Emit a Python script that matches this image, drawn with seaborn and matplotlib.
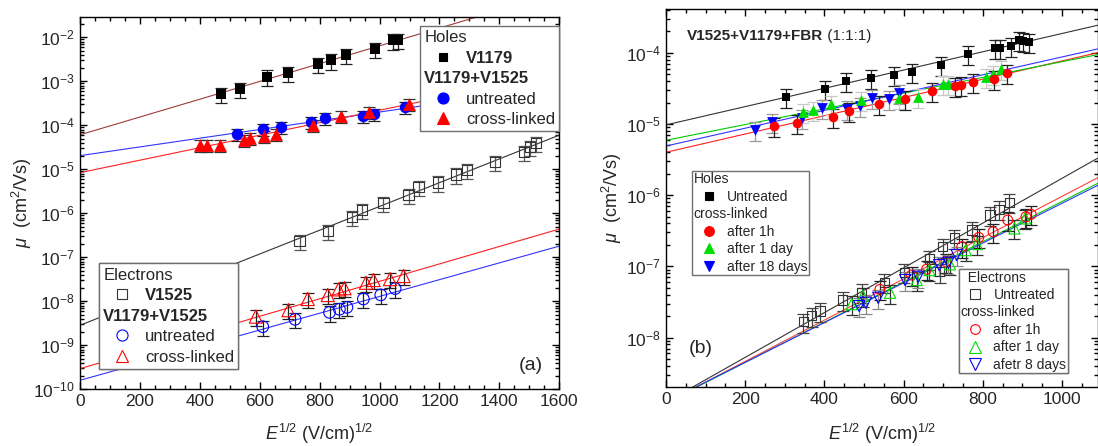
import numpy as np
import pandas as pd
import seaborn as sns
import matplotlib.pyplot as plt
from matplotlib.lines import Line2D

# ---- panel (a): holes ----
a_h_v1179_x = [471, 534, 623, 695, 796, 837, 888, 984, 1046, 1060]
a_h_v1179_mu = [5.15e-4, 6.7e-4, 1.28e-3, 1.55e-3, 2.48e-3, 3.0e-3, 3.9e-3, 5.4e-3, 8.5e-3, 8.85e-3]
a_h_untr_x = [524, 611, 670, 770, 818, 944, 982, 1085]
a_h_untr_mu = [6.45e-5, 8.24e-5, 9.14e-5, 1.21e-4, 1.45e-4, 1.6e-4, 1.84e-4, 2.58e-4]
a_h_xl_x = [402, 423, 467, 546, 566, 614, 655, 779, 872, 964, 1097]
a_h_xl_mu = [3.63e-5, 3.63e-5, 3.5e-5, 4.6e-5, 5.1e-5, 5.7e-5, 6.2e-5, 1.0e-4, 1.63e-4, 2.04e-4, 3.05e-4]
# ---- panel (a): electrons ----
a_e_v1525_x = [733, 827, 909, 941, 1013, 1097, 1130, 1194, 1256, 1291, 1386, 1481, 1503, 1523]
a_e_v1525_mu = [2.34e-7, 4.0e-7, 8.4e-7, 1.19e-6, 1.74e-6, 2.6e-6, 4.0e-6, 5.0e-6, 7.6e-6, 9.6e-6,
                1.47e-5, 2.5e-5, 3.27e-5, 4.0e-5]
a_e_untr_x = [610, 718, 833, 866, 891, 946, 1004, 1052]
a_e_untr_mu = [2.65e-9, 3.9e-9, 5.6e-9, 6.6e-9, 7.3e-9, 1.13e-8, 1.4e-8, 1.95e-8]
a_e_xl_x = [587, 696, 760, 827, 863, 883, 955, 980, 1035, 1080]
a_e_xl_mu = [4.5e-9, 6.3e-9, 1.13e-8, 1.39e-8, 1.87e-8, 1.99e-8, 2.65e-8, 3.05e-8, 3.2e-8, 3.76e-8]
# fit lines (value at x = 0 and x = 1600)
a_fit_x = [0, 1600]
a_fit_h_v1179 = [6.1e-5, 1.05e-1]
a_fit_h_untr = [2.05e-5, 7.9e-4]
a_fit_h_xl = [8.4e-6, 1.57e-3]
a_fit_e_v1525 = [2.85e-9, 6.0e-5]
a_fit_e_untr = [1.6e-10, 1.8e-7]
a_fit_e_xl = [2.95e-10, 4.4e-7]

# ---- panel (b): holes ----
b_h_untr_x = [304, 402, 455, 517, 576, 622, 694, 763, 832, 843, 872, 891, 902, 917]
b_h_untr_mu = [2.39e-5, 3.09e-5, 4.05e-5, 4.41e-5, 4.91e-5, 5.36e-5, 6.65e-5, 9.6e-5, 1.15e-4,
               1.15e-4, 1.24e-4, 1.49e-4, 1.44e-4, 1.43e-4]
b_h_1h_x = [272, 330, 421, 461, 538, 604, 672, 730, 745, 776, 829, 860]
b_h_1h_mu = [9.3e-6, 1.02e-5, 1.25e-5, 1.52e-5, 1.92e-5, 2.21e-5, 2.9e-5, 3.4e-5, 3.56e-5,
             3.84e-5, 4.32e-5, 5.14e-5]
b_h_1d_x = [345, 372, 416, 492, 589, 637, 699, 711, 808, 827, 845]
b_h_1d_mu = [1.48e-5, 1.57e-5, 1.9e-5, 2.17e-5, 2.29e-5, 2.41e-5, 3.6e-5, 3.6e-5, 4.6e-5, 5.0e-5, 5.85e-5]
b_h_18d_x = [224, 268, 343, 395, 456, 490, 521, 564, 589]
b_h_18d_mu = [8.2e-6, 1.07e-5, 1.2e-5, 1.66e-5, 1.6e-5, 1.78e-5, 2.33e-5, 2.22e-5, 2.69e-5]
# ---- panel (b): electrons ----
b_e_untr_x = [347, 368, 389, 446, 494, 551, 602, 665, 691, 699, 728, 773, 818, 841, 867]
b_e_untr_mu = [1.67e-8, 2.02e-8, 2.35e-8, 3.36e-8, 4.31e-8, 5.96e-8, 8.24e-8, 1.27e-7, 8.4e-8,
               1.88e-7, 2.5e-7, 3.24e-7, 5.26e-7, 6.3e-7, 7.9e-7]
b_e_1h_x = [540, 620, 658, 707, 747, 790, 826, 863, 909, 922]
b_e_1h_mu = [4.75e-8, 7.55e-8, 9.1e-8, 1.16e-7, 1.89e-7, 2.55e-7, 3.06e-7, 4.47e-7, 4.97e-7, 5.38e-7]
b_e_1d_x = [469, 497, 566, 633, 665, 717, 757, 785, 880, 907]
b_e_1d_mu = [2.95e-8, 3.86e-8, 4.26e-8, 6.43e-8, 8.87e-8, 1.07e-7, 1.69e-7, 2.06e-7, 3.41e-7, 4.72e-7]
b_e_8d_x = [488, 505, 536, 604, 637, 690, 713, 734]
b_e_8d_mu = [2.77e-8, 3.08e-8, 3.62e-8, 6.42e-8, 7.15e-8, 1.04e-7, 1.12e-7, 1.44e-7]
# fit lines (value at x = 0 and x = 1090)
b_fit_x = [0, 1090]
b_fit_h_untr = [9.7e-6, 2.43e-4]
b_fit_h_1h = [4.0e-6, 1.0e-4]
b_fit_h_1d = [5.9e-6, 9.4e-5]
b_fit_h_18d = [4.9e-6, 1.13e-4]
b_fit_e_untr = [1.24e-9, 3.3e-6]
b_fit_e_1h = [1.22e-9, 1.75e-6]
b_fit_e_1d = [1.22e-9, 1.46e-6]
b_fit_e_8d = [1.24e-9, 1.37e-6]

# relative error of the error bars
err_a = 0.38
err_b = 0.30

RED, GREEN, BLUE = "#ff0000", "#00dd00", "#0000ff"

sns.set_style("ticks")
plt.rcParams["font.family"] = ["Liberation Sans", "DejaVu Sans"]
plt.rcParams["mathtext.fontset"] = "custom"
plt.rcParams["mathtext.rm"] = "Liberation Sans"
plt.rcParams["mathtext.it"] = "Liberation Sans:italic"
plt.rcParams["mathtext.bf"] = "Liberation Sans:bold"


def series(ax, x, mu, marker, color, filled, size, rel, ecolor, cap):
    mu = np.asarray(mu)
    ax.errorbar(x, mu, yerr=rel * mu, fmt="none", ecolor=ecolor, elinewidth=0.9,
                capsize=cap, capthick=0.9, zorder=2)
    df = pd.DataFrame({"x": x, "mu": mu})
    if filled:
        sns.scatterplot(data=df, x="x", y="mu", ax=ax, marker=marker, s=size,
                        color=color, edgecolor=color, linewidth=0, zorder=3)
    else:
        sns.scatterplot(data=df, x="x", y="mu", ax=ax, marker=marker, s=size,
                        color=color, facecolor="none", edgecolor=color, linewidth=0.8, zorder=3)


def fit(ax, x, y, color):
    sns.lineplot(x=x, y=y, ax=ax, color=color, lw=0.8, zorder=1)


def legend(ax, entries, fs, headers, bold, **kw):
    handles, labels = [], []
    for lab, marker, color, filled, ms in entries:
        if marker is None:
            handles.append(Line2D([], [], ls="none"))
        else:
            handles.append(Line2D([], [], ls="none", marker=marker, ms=ms, mec=color,
                                  mfc=color if filled else "none", mew=0.8))
        labels.append(lab)
    leg = ax.legend(handles, labels, fontsize=fs, frameon=True, fancybox=False,
                    edgecolor="#707070", framealpha=1, borderaxespad=0, **kw)
    leg.get_frame().set_linewidth(1.0)
    leg.set_zorder(5)
    for col in leg._legend_handle_box.get_children():
        for row in col.get_children():
            da, ta = row.get_children()
            if ta.get_text() in headers:
                da.set_width(0)
                row.sep = 0
    for t in leg.get_texts():
        if t.get_text() in bold:
            t.set_fontweight("bold")
    ax.add_artist(leg)
    return leg


fig = plt.figure(figsize=(10.98, 4.46), dpi=100)
ax_a = fig.add_axes([0.07286, 0.12713, 0.43652, 0.83543])
ax_b = fig.add_axes([0.60656, 0.13296, 0.39308, 0.84619])
for ax in (ax_a, ax_b):
    ax.set_yscale("log")

# panel (a)
fit(ax_a, a_fit_x, a_fit_h_v1179, "#a03c3c")
fit(ax_a, a_fit_x, a_fit_h_untr, "#3333ff")
fit(ax_a, a_fit_x, a_fit_h_xl, "#ff2020")
fit(ax_a, a_fit_x, a_fit_e_v1525, "#333333")
fit(ax_a, a_fit_x, a_fit_e_untr, "#3333ff")
fit(ax_a, a_fit_x, a_fit_e_xl, "#ff2020")
series(ax_a, a_h_v1179_x, a_h_v1179_mu, "s", "black", True, 45, err_a, "#222222", 4.3)
series(ax_a, a_h_untr_x, a_h_untr_mu, "o", BLUE, True, 68, err_a * 0.8, "#222222", 4.3)
series(ax_a, a_h_xl_x, a_h_xl_mu, "^", RED, True, 85, err_a * 0.8, "#333333", 4.3)
series(ax_a, a_e_v1525_x, a_e_v1525_mu, "s", "#333333", False, 55, err_a, "#555555", 4.3)
series(ax_a, a_e_untr_x, a_e_untr_mu, "o", BLUE, False, 70, err_a, "#222222", 4.3)
series(ax_a, a_e_xl_x, a_e_xl_mu, "^", RED, False, 90, err_a, "#222222", 4.3)
ax_a.set_xlim(0, 1600)
ax_a.set_ylim(1e-10, 10 ** -1.53)
ax_a.set_xticks(np.arange(0, 1601, 200))
ax_a.set_xticks(np.arange(0, 1601, 50), minor=True)

legend(ax_a, [("Holes", None, None, True, 0),
              ("V1179", "s", "black", True, 6),
              ("V1179+V1525", None, None, True, 0),
              ("untreated", "o", BLUE, True, 8),
              ("cross-linked", "^", RED, True, 9)],
       12, {"Holes", "V1179+V1525"}, {"V1179", "V1179+V1525"},
       loc="upper right", bbox_to_anchor=(1.0, 0.975), borderpad=0.25,
       handlelength=2.2, handletextpad=0.3, labelspacing=0.33)
legend(ax_a, [("Electrons", None, None, True, 0),
              ("V1525", "s", "#333333", False, 6.5),
              ("V1179+V1525", None, None, True, 0),
              ("untreated", "o", BLUE, False, 8),
              ("cross-linked", "^", RED, False, 9)],
       12, {"Electrons", "V1179+V1525"}, {"V1525", "V1179+V1525"},
       loc="lower left", bbox_to_anchor=(0.04, 0.055), borderpad=0.25,
       handlelength=2.2, handletextpad=0.3, labelspacing=0.33)
ax_a.text(0.94, 0.065, "(a)", transform=ax_a.transAxes, fontsize=14,
          ha="center", va="center")

# panel (b)
fit(ax_b, b_fit_x, b_fit_h_untr, "#333333")
fit(ax_b, b_fit_x, b_fit_h_1h, "#ff2020")
fit(ax_b, b_fit_x, b_fit_h_1d, "#00cc00")
fit(ax_b, b_fit_x, b_fit_h_18d, "#3333ff")
fit(ax_b, b_fit_x, b_fit_e_untr, "#333333")
fit(ax_b, b_fit_x, b_fit_e_1h, "#ff4040")
fit(ax_b, b_fit_x, b_fit_e_1d, "#00cc00")
fit(ax_b, b_fit_x, b_fit_e_8d, "#3333ff")
series(ax_b, b_h_untr_x, b_h_untr_mu, "s", "black", True, 36, err_b, "#222222", 4)
series(ax_b, b_h_18d_x, b_h_18d_mu, "v", BLUE, True, 60, err_b, "#999999", 4)
series(ax_b, b_h_1d_x, b_h_1d_mu, "^", GREEN, True, 60, err_b, "#c8c8c8", 4)
series(ax_b, b_h_1h_x, b_h_1h_mu, "o", RED, True, 48, err_b, "#222222", 4)
series(ax_b, b_e_untr_x, b_e_untr_mu, "s", "#333333", False, 45, err_b, "#444444", 4)
series(ax_b, b_e_1h_x, b_e_1h_mu, "o", RED, False, 50, err_b, "#222222", 4)
series(ax_b, b_e_1d_x, b_e_1d_mu, "^", GREEN, False, 65, err_b, "#333333", 4)
series(ax_b, b_e_8d_x, b_e_8d_mu, "v", BLUE, False, 65, err_b, "#888888", 4)
ax_b.set_xlim(0, 1090)
ax_b.set_ylim(10 ** -8.69, 10 ** -3.39)
ax_b.set_xticks(np.arange(0, 1001, 200))
ax_b.set_xticks(np.arange(0, 1090, 50), minor=True)

legend(ax_b, [("Holes", None, None, True, 0),
              ("Untreated", "s", "black", True, 6),
              ("cross-linked", None, None, True, 0),
              ("after 1h", "o", RED, True, 7),
              ("after 1 day", "^", GREEN, True, 7.5),
              ("after 18 days", "v", BLUE, True, 7.5)],
       10, {"Holes", "cross-linked"}, set(),
       loc="upper left", bbox_to_anchor=(0.061, 0.572), borderpad=0.1,
       handlelength=2.2, handletextpad=0.2, labelspacing=0.25)
legend(ax_b, [("  Electrons", None, None, True, 0),
              ("Untreated", "s", "#333333", False, 6.5),
              ("cross-linked", None, None, True, 0),
              ("after 1h", "o", RED, False, 7),
              ("after 1 day", "^", GREEN, False, 8),
              ("afetr 8 days", "v", BLUE, False, 8)],
       10, {"  Electrons", "cross-linked"}, set(),
       loc="lower right", bbox_to_anchor=(0.931, 0.0355), borderpad=0.1,
       handlelength=2.2, handletextpad=0.2, labelspacing=0.25)
ax_b.text(0.081, 0.1, "(b)", transform=ax_b.transAxes, fontsize=14,
          ha="center", va="center")
t1 = ax_b.text(0.0475, 0.929, "V1525+V1179+FBR", transform=ax_b.transAxes,
               fontsize=11, fontweight="bold", ha="left", va="center")
ax_b.annotate(" (1:1:1)", xy=(1, 0.5), xycoords=t1, fontsize=11, ha="left", va="center")

for ax, ylx, xly in ((ax_a, -0.121, -0.12), (ax_b, -0.126, -0.125)):
    ax.tick_params(which="both", direction="in", top=True, right=True,
                   labelsize=12.5, color="black", width=1.0)
    ax.tick_params(which="major", length=5)
    ax.tick_params(which="minor", length=3)
    for sp in ax.spines.values():
        sp.set_visible(True)
        sp.set_linewidth(1.0)
        sp.set_color("black")
    ax.set_xlabel(r"$E^{1/2}$ (V/cm)$^{1/2}$", fontsize=13, va="center")
    ax.set_ylabel(r"$\mu$  (cm$^2$/Vs)", fontsize=13, va="center")
    ax.yaxis.set_label_coords(ylx, 0.5)
    ax.xaxis.set_label_coords(0.5, xly)
    ax.grid(False)

fig.savefig("out.png", dpi=100)
